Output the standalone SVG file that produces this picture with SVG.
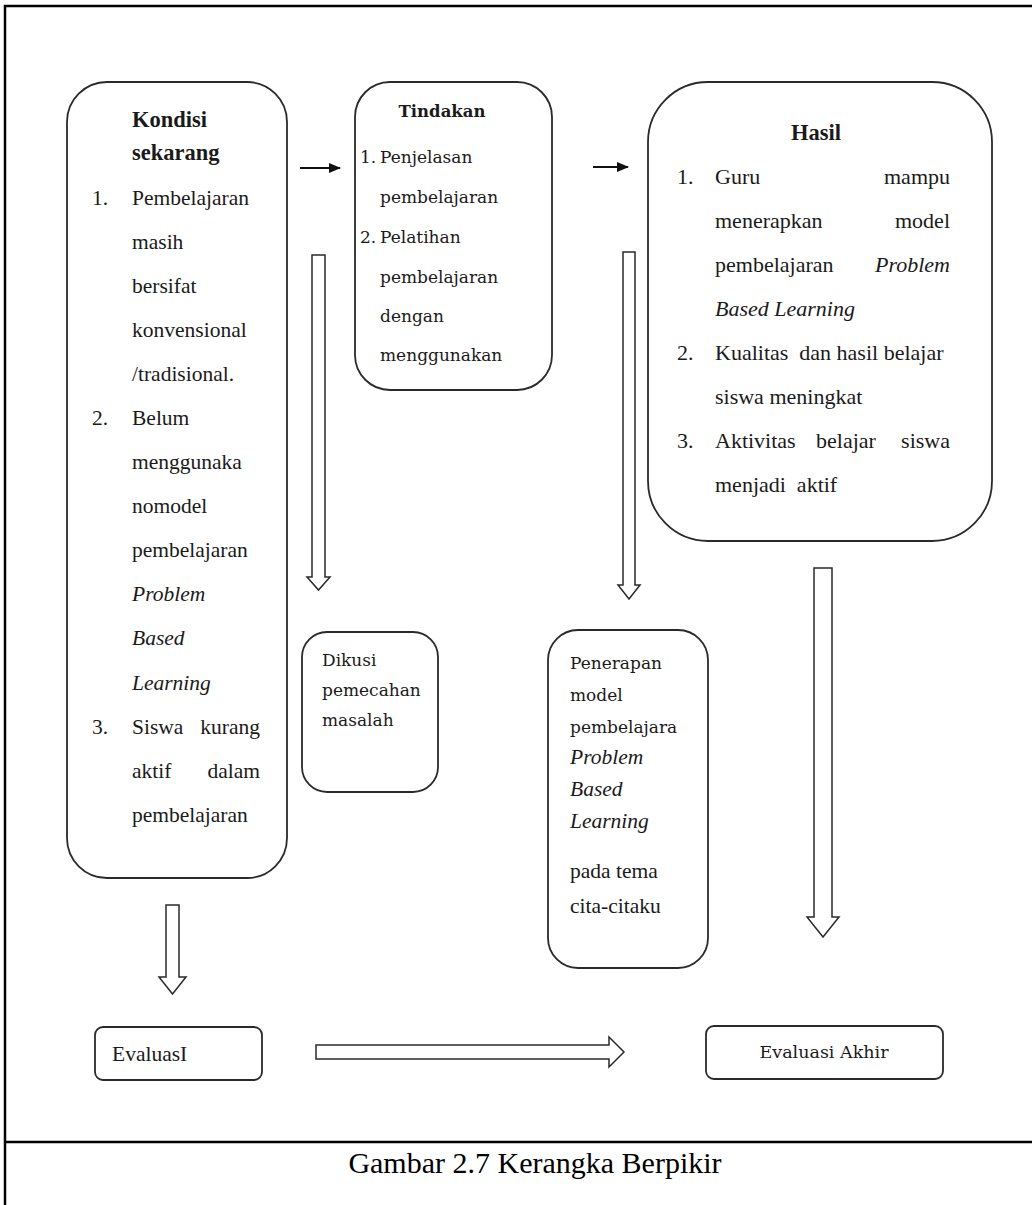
<svg xmlns="http://www.w3.org/2000/svg" width="1032" height="1205" viewBox="0 0 1032 1205">
<style>
.box{fill:#fff;stroke:#2a2a2a;stroke-width:1.8}
.t{font-family:"Liberation Serif","Times New Roman",serif;font-size:21.5px;fill:#1a1a1a}
.tb{font-family:"Liberation Serif","Times New Roman",serif;font-size:22.5px;font-weight:bold;fill:#1a1a1a}
.ti{font-family:"Liberation Serif","Times New Roman",serif;font-size:21.5px;font-style:italic;fill:#1a1a1a}
.w{font-family:"DejaVu Serif",serif;font-size:17px;fill:#1a1a1a}
.wb{font-family:"DejaVu Serif",serif;font-size:16.5px;font-weight:bold;fill:#1a1a1a}
.h{font-family:"Liberation Serif","Times New Roman",serif;font-size:22px;fill:#1a1a1a}
.hi{font-family:"Liberation Serif","Times New Roman",serif;font-size:22px;font-style:italic;fill:#1a1a1a}
.hol{fill:#fff;stroke:#2a2a2a;stroke-width:1.5;stroke-linejoin:miter}
.thin{stroke:#111;stroke-width:1.8;fill:none}
.frame{stroke:#000;stroke-width:2.5;fill:none}
.cap{font-family:"Liberation Serif","Times New Roman",serif;font-size:30px;fill:#000}
</style>
<defs>
<marker id="ah" markerWidth="12" markerHeight="10" refX="11" refY="5" orient="auto" markerUnits="userSpaceOnUse">
<path d="M0,0 L12,5 L0,10 z" fill="#111"/>
</marker>
</defs>
<rect width="1032" height="1205" fill="#fff"/>
<g id="frame">
<path class="frame" d="M5,1205 V6 H1032"/>
<path class="frame" d="M5,1142 H1032"/>
<text class="cap" x="535" y="1173" text-anchor="middle">Gambar 2.7 Kerangka Berpikir</text>
</g>

<g id="kondisi">
<rect class="box" x="67" y="82" width="220" height="796" rx="40" ry="40"/>
<text class="tb" x="132" y="127">Kondisi</text>
<text class="tb" x="132" y="160">sekarang</text>
<text class="t" x="92" y="205">1.</text>
<text class="t" x="132" y="205">Pembelajaran</text>
<text class="t" x="132" y="249">masih</text>
<text class="t" x="132" y="293">bersifat</text>
<text class="t" x="132" y="337">konvensional</text>
<text class="t" x="132" y="381">/tradisional.</text>
<text class="t" x="92" y="425">2.</text>
<text class="t" x="132" y="425">Belum</text>
<text class="t" x="132" y="469">menggunaka</text>
<text class="t" x="132" y="513">nomodel</text>
<text class="t" x="132" y="557">pembelajaran</text>
<text class="ti" x="132" y="601">Problem</text>
<text class="ti" x="132" y="645">Based</text>
<text class="ti" x="132" y="690">Learning</text>
<text class="t" x="92" y="734">3.</text>
<text class="t" x="132" y="734">Siswa</text>
<text class="t" x="260" y="734" text-anchor="end">kurang</text>
<text class="t" x="132" y="778">aktif</text>
<text class="t" x="260" y="778" text-anchor="end">dalam</text>
<text class="t" x="132" y="822">pembelajaran</text>
</g>

<g id="tindakan">
<rect class="box" x="355" y="82" width="197" height="308" rx="35" ry="35"/>
<text class="wb" x="442" y="117" text-anchor="middle">Tindakan</text>
<text class="w" x="360" y="163">1.</text>
<text class="w" x="380" y="163">Penjelasan</text>
<text class="w" x="380" y="203">pembelajaran</text>
<text class="w" x="360" y="243">2.</text>
<text class="w" x="380" y="243">Pelatihan</text>
<text class="w" x="380" y="283">pembelajaran</text>
<text class="w" x="380" y="322">dengan</text>
<text class="w" x="380" y="361">menggunakan</text>
</g>

<g id="hasil">
<rect class="box" x="648" y="82" width="344" height="459" rx="60" ry="60"/>
<text class="tb" x="816" y="140" text-anchor="middle">Hasil</text>
<text class="h" x="677" y="184">1.</text>
<text class="h" x="715" y="184">Guru</text>
<text class="h" x="950" y="184" text-anchor="end">mampu</text>
<text class="h" x="715" y="228">menerapkan</text>
<text class="h" x="950" y="228" text-anchor="end">model</text>
<text class="h" x="715" y="272">pembelajaran</text>
<text class="hi" x="950" y="272" text-anchor="end">Problem</text>
<text class="hi" x="715" y="316">Based Learning</text>
<text class="h" x="677" y="360">2.</text>
<text class="h" x="715" y="360" xml:space="preserve">Kualitas  dan hasil belajar</text>
<text class="h" x="715" y="404">siswa meningkat</text>
<text class="h" x="677" y="448">3.</text>
<text class="h" x="715" y="448">Aktivitas</text>
<text class="h" x="846" y="448" text-anchor="middle">belajar</text>
<text class="h" x="950" y="448" text-anchor="end">siswa</text>
<text class="h" x="715" y="492" xml:space="preserve">menjadi  aktif</text>
</g>

<g id="dikusi">
<rect class="box" x="302" y="632" width="136" height="160" rx="25" ry="25"/>
<text class="w" x="322" y="666">Dikusi</text>
<text class="w" x="322" y="696">pemecahan</text>
<text class="w" x="322" y="726">masalah</text>
</g>

<g id="penerapan">
<rect class="box" x="548" y="630" width="160" height="338" rx="30" ry="30"/>
<text class="w" x="570" y="669">Penerapan</text>
<text class="w" x="570" y="701">model</text>
<text class="w" x="570" y="733">pembelajara</text>
<text class="ti" x="570" y="764">Problem</text>
<text class="ti" x="570" y="796">Based</text>
<text class="ti" x="570" y="828">Learning</text>
<text class="t" x="570" y="878">pada tema</text>
<text class="t" x="570" y="913">cita-citaku</text>
</g>

<g id="evaluasi">
<rect class="box" x="95" y="1027" width="167" height="53" rx="8" ry="8"/>
<text class="t" x="112" y="1061">EvaluasI</text>
</g>

<g id="evaluasi-akhir">
<rect class="box" x="706" y="1026" width="237" height="53" rx="8" ry="8"/>
<text class="w" x="824" y="1058" text-anchor="middle" style="font-size:17.5px">Evaluasi Akhir</text>
</g>

<g id="connectors">
<line class="thin" x1="300" y1="168" x2="340" y2="168" marker-end="url(#ah)"/>
<line class="thin" x1="593" y1="167" x2="628" y2="167" marker-end="url(#ah)"/>
<path class="hol" d="M312,255 H325 V577 H330 L318.5,590 L307,577 H312 Z"/>
<path class="hol" d="M623,252 H635 V585 H640 L629,599 L618,585 H623 Z"/>
<path class="hol" d="M814,568 H832 V917 H839 L823,937 L807,917 H814 Z"/>
<path class="hol" d="M166,905 H179 V977 H186 L172.5,994 L159,977 H166 Z"/>
<path class="hol" d="M316,1045 H609 V1037 L624,1052 L609,1067 V1059 H316 Z"/>
</g>
</svg>
